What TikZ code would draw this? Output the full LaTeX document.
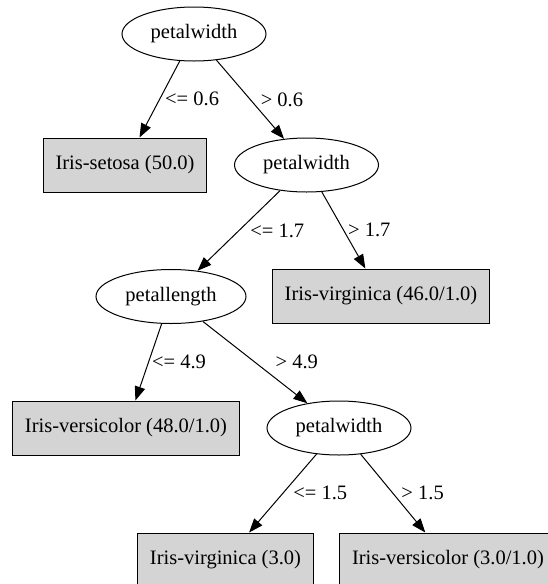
\documentclass[tikz,border=0pt]{standalone}
\usepackage{fontspec}
\setmainfont{Liberation Serif}
\usetikzlibrary{shapes.geometric,arrows.meta}
\tikzset{
  test/.style={draw, ellipse, minimum width=144pt, minimum height=54pt, inner sep=0pt},
  leaf/.style={draw, fill=black!17, rectangle, minimum height=54pt, inner xsep=12.5pt},
  branch/.style={-{Triangle[length=14pt,width=10.5pt]}, line width=1pt},
  elabel/.style={anchor=west, inner sep=0pt}
}
\begin{document}
\begin{tikzpicture}[x=1pt,y=-1pt,line width=1pt,font=\fontsize{20.5}{24}\selectfont]
\useasboundingbox (0,0) rectangle (547,584);
% tests
\node[test] (pw1) at (194,34) {petalwidth};
\node[test] (pw2) at (306.5,165) {petalwidth};
\node[test, minimum width=150pt] (pl) at (171,296.5) {petallength};
\node[test] (pw3) at (339,428) {petalwidth};
% leaves
\node[leaf] (setosa) at (125,165) {Iris-setosa (50.0)};
\node[leaf] (virg46) at (381,296) {Iris-virginica (46.0/1.0)};
\node[leaf] (vers48) at (126,428) {Iris-versicolor (48.0/1.0)};
\node[leaf] (virg3) at (225.5,560) {Iris-virginica (3.0)};
\node[leaf] (vers3) at (448,560) {Iris-versicolor (3.0/1.0)};
% branches
\draw[branch] (pw1) -- node[elabel, xshift=5pt] {<= 0.6} (setosa);
\draw[branch] (pw1) -- node[elabel, xshift=10pt] {> 0.6} (pw2);
\draw[branch] (pw2) -- node[elabel, xshift=11pt] {<= 1.7} (pl);
\draw[branch] (pw2) -- node[elabel, xshift=4pt] {> 1.7} (virg46);
\draw[branch] (pl) -- node[elabel, xshift=3pt] {<= 4.9} (vers48);
\draw[branch] (pl) -- node[elabel, xshift=20pt] {> 4.9} (pw3);
\draw[branch] (pw3) -- node[elabel, xshift=10pt] {<= 1.5} (virg3);
\draw[branch] (pw3) -- node[elabel, xshift=8pt] {> 1.5} (vers3);
\end{tikzpicture}
\end{document}
